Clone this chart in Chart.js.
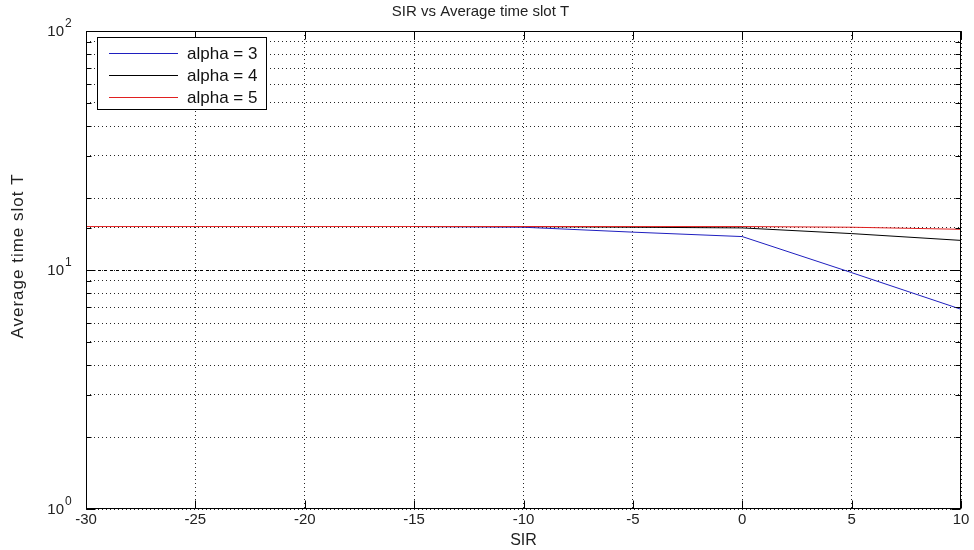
<!DOCTYPE html>
<html>
<head>
<meta charset="utf-8">
<script src="https://cdn.jsdelivr.net/npm/chart.js@4.4.1/dist/chart.umd.min.js"></script>
<style>
  body { margin: 0; background: #fff; }
  #wrap { width: 974px; height: 550px; }
</style>
</head>
<body>
<div id="wrap"><canvas id="lineChart"></canvas></div>
<script>
const sir = [-30, -25, -20, -15, -10, -5, 0, 5, 10];
const alpha3 = [null, null, null, 15.2, 15.1, 14.4, 13.8, 9.75, 6.85];
const alpha4 = [null, null, null, 15.2, 15.2, 15.1, 15.0, 14.2, 13.3];
const alpha5 = [15.2, 15.2, 15.2, 15.2, 15.2, 15.2, 15.2, 15.1, 14.8];
const seriesLabels = ["alpha = 3", "alpha = 4", "alpha = 5"];
const seriesColors = ["#1f1fbf", "#000000", "#e02020"];
const yTickLabels = [{ value: 1, base: "10", exp: "0" }, { value: 10, base: "10", exp: "1" }, { value: 100, base: "10", exp: "2" }];
const yTitle = "Average time slot T";

const font = "Liberation Sans, Arial, sans-serif";

function points(values) {
  return sir.map((x, i) => ({ x: x, y: values[i] })).filter((p) => p.y !== null);
}

// box, inside ticks, y labels with exponents, y title, legend
const frame = {
  id: "frame",
  beforeDatasetsDraw(chart) {
    // heavier dashed line at the 10^1 decade
    const { ctx, chartArea: a, scales } = chart;
    const py = Math.round(scales.y.getPixelForValue(10)) + 0.5;
    ctx.save();
    ctx.strokeStyle = "#000";
    ctx.lineWidth = 1;
    ctx.setLineDash([3, 3]);
    ctx.beginPath();
    ctx.moveTo(a.left, py);
    ctx.lineTo(a.right, py);
    ctx.stroke();
    ctx.restore();
  },
  afterDraw(chart) {
    const { ctx, chartArea: a, scales } = chart;
    const x = scales.x, y = scales.y;
    ctx.save();
    ctx.strokeStyle = "#000";
    ctx.lineWidth = 1;
    ctx.setLineDash([]);
    const L = Math.round(a.left) + 0.5, R = Math.round(a.right) - 0.5;
    const T = Math.round(a.top) + 0.5, B = Math.round(a.bottom) - 0.5;
    ctx.strokeRect(L, T, R - L, B - T);

    ctx.beginPath();
    y.ticks.forEach((t) => {
      const py = Math.round(y.getPixelForValue(t.value)) + 0.5;
      const len = [1, 10, 100].includes(t.value) ? 9 : 5;
      ctx.moveTo(L, py); ctx.lineTo(L + len, py);
      ctx.moveTo(R, py); ctx.lineTo(R - len, py);
    });
    x.ticks.forEach((t) => {
      const px = Math.round(x.getPixelForValue(t.value)) + 0.5;
      ctx.moveTo(px, B); ctx.lineTo(px, B - 8);
      ctx.moveTo(px, T); ctx.lineTo(px, T + 8);
    });
    ctx.stroke();

    ctx.fillStyle = "#222";
    ctx.textBaseline = "middle";
    yTickLabels.forEach((t) => {
      const py = y.getPixelForValue(t.value);
      ctx.font = "15px " + font;
      ctx.textAlign = "right";
      ctx.fillText(t.base, 64, py + 1);
      ctx.font = "12px " + font;
      ctx.textAlign = "left";
      ctx.fillText(t.exp, 65, py - 7);
    });

    // y axis title
    ctx.save();
    ctx.translate(18, 256);
    ctx.rotate(-Math.PI / 2);
    ctx.font = "17px " + font;
    ctx.letterSpacing = "1px";
    ctx.textAlign = "center";
    ctx.fillText(yTitle, 0, 0);
    ctx.restore();

    // legend
    const lx = 97.5, ly = 37.5, lw = 169, lh = 72;
    ctx.fillStyle = "#fff";
    ctx.fillRect(lx, ly, lw, lh);
    ctx.strokeStyle = "#000";
    ctx.strokeRect(lx, ly, lw, lh);
    ctx.font = "17px " + font;
    ctx.textAlign = "left";
    seriesLabels.forEach((label, i) => {
      const ry = 53 + i * 22;
      ctx.strokeStyle = seriesColors[i];
      ctx.beginPath();
      ctx.moveTo(109, ry + 0.5);
      ctx.lineTo(178, ry + 0.5);
      ctx.stroke();
      ctx.fillStyle = "#111";
      ctx.fillText(label, 187, ry + 1);
    });
    ctx.restore();
  },
};

const data = {
  datasets: seriesLabels.map((label, i) => ({
    label: label,
    data: points([alpha3, alpha4, alpha5][i]),
    borderColor: seriesColors[i],
    backgroundColor: seriesColors[i],
    borderWidth: 1,
    pointRadius: 0,
    tension: 0,
    fill: false,
    order: 3 - i,
  })),
};

const myChart = new Chart(document.getElementById("lineChart").getContext("2d"), {
  type: "line",
  data,
  plugins: [frame],
  options: {
    responsive: true,
    maintainAspectRatio: false,
    animation: { duration: 0 },
    layout: { padding: { left: 0, right: 13, top: 0, bottom: 0 } },
    plugins: {
      legend: { display: false },
      tooltip: { enabled: false },
      title: {
        display: true,
        text: "SIR vs Average time slot T",
        color: "#222",
        font: { family: font, size: 15, weight: "normal" },
        padding: { top: 3, bottom: 10 },
      },
    },
    scales: {
      x: {
        type: "linear",
        min: -30,
        max: 10,
        ticks: {
          stepSize: 5,
          color: "#222",
          font: { family: font, size: 15 },
          padding: 2,
          maxRotation: 0,
        },
        grid: { color: "rgba(0,0,0,0.85)", lineWidth: 1, drawTicks: false },
        border: { display: false, dash: [1, 3] },
        title: {
          display: true,
          text: "SIR",
          color: "#222",
          font: { family: font, size: 16 },
          padding: { top: 0, bottom: 0 },
        },
        afterFit(scale) { scale.height = 41; },
      },
      y: {
        type: "logarithmic",
        min: 1,
        max: 100,
        ticks: { display: false },
        grid: { color: "rgba(0,0,0,0.85)", lineWidth: 1, drawTicks: false },
        border: { display: false, dash: [1, 3] },
        afterFit(scale) { scale.width = 86; },
      },
    },
  },
});

myChart.update();
</script>
</body>
</html>
